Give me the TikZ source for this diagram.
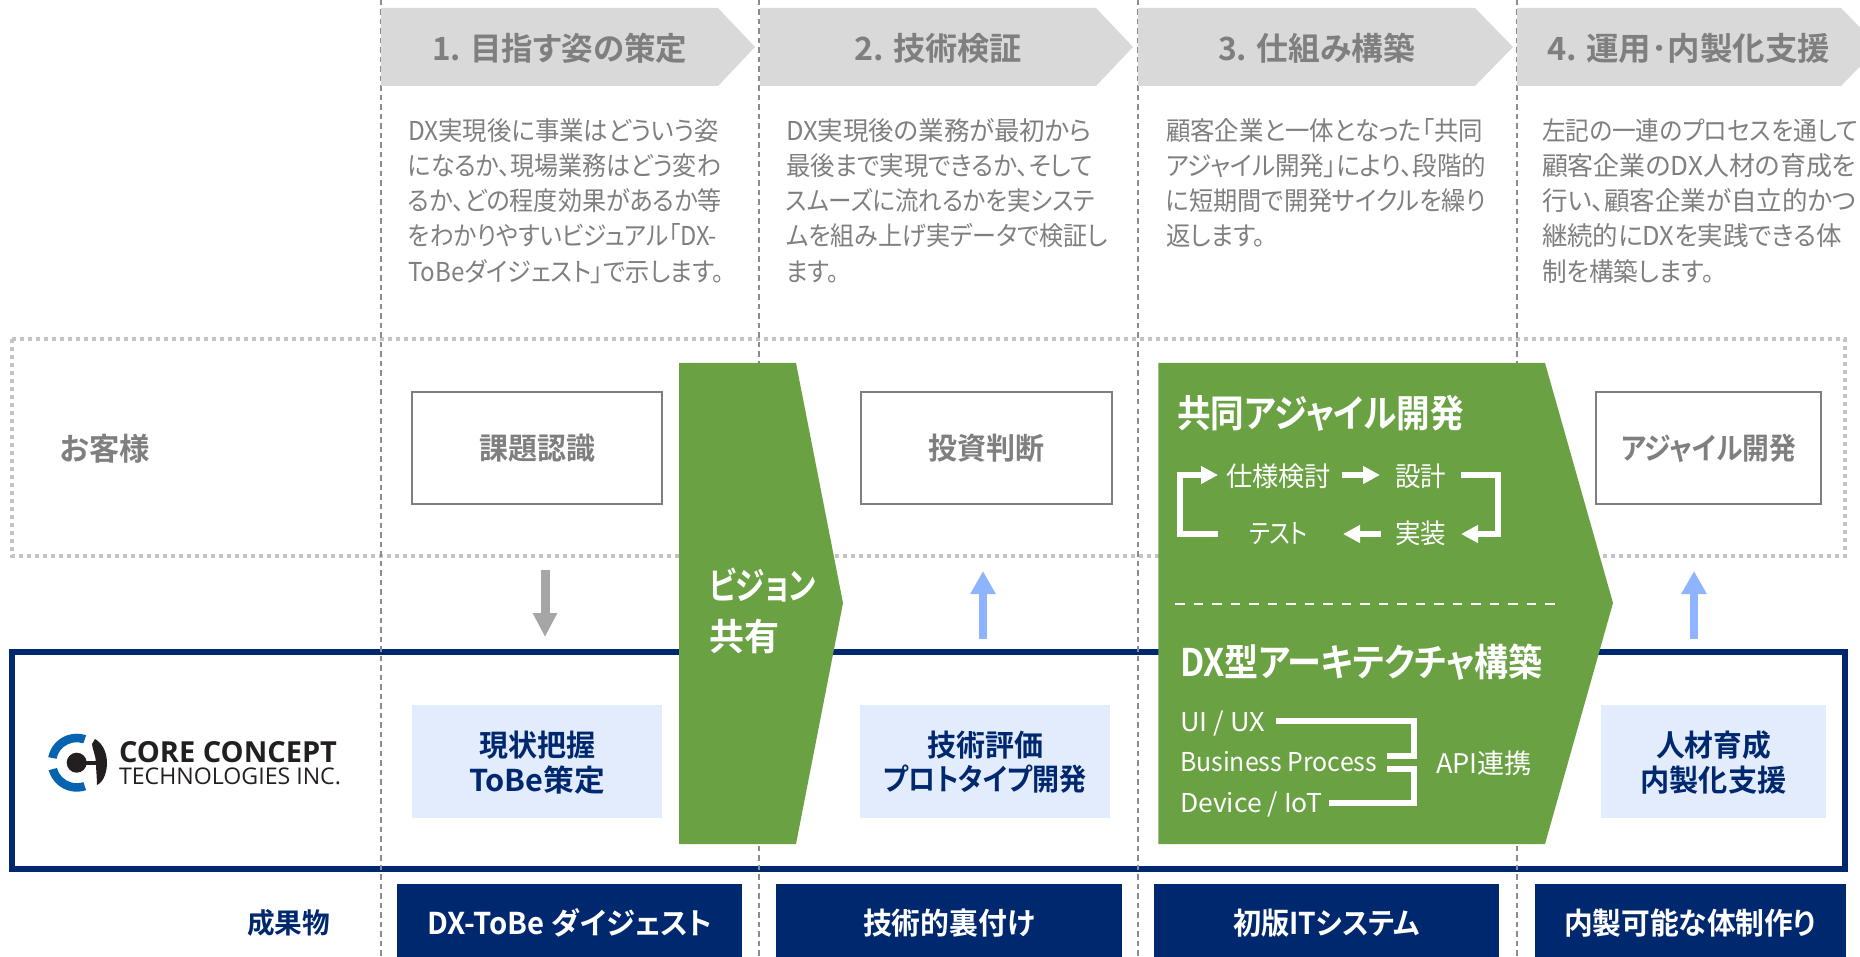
\documentclass[tikz,border=0pt]{standalone}
\usepackage{fontspec}
\usepackage{graphicx}
\usetikzlibrary{arrows.meta}
\setmainfont{Noto Sans CJK JP}[RawFeature=+palt,BoldFont={Noto Sans CJK JP Bold}]
\newfontfamily\logofont{Open Sans}
\definecolor{navy}{HTML}{00286F}
\definecolor{leaf}{HTML}{6AA143}
\definecolor{hdr}{HTML}{D9D9D9}
\definecolor{gtx}{HTML}{7F7F7F}
\definecolor{pale}{HTML}{E3ECFC}
\definecolor{sky}{HTML}{8FB4FF}
\definecolor{ash}{HTML}{A6A6A6}
\definecolor{dots}{HTML}{C4C4C4}
\definecolor{vline}{HTML}{8C8C8C}
\definecolor{lblue}{HTML}{0563B0}
\definecolor{lblack}{HTML}{231F20}
\newcommand{\tx}[3]{\fontsize{#1pt}{#1pt}\selectfont\resizebox{#2pt}{\height}{\rule[-.12em]{0pt}{1em}#3}}
\tikzset{
  lbl/.style={inner sep=0pt,outer sep=0pt},
  body/.style={lbl,anchor=west,text=gtx},
  head/.style={lbl,text=gtx,font=\bfseries},
  navyb/.style={lbl,text=navy,font=\bfseries},
  whiteb/.style={lbl,text=white,font=\bfseries},
  whiter/.style={lbl,text=white},
  whitel/.style={lbl,text=white,anchor=west},
  graybox/.style={lbl,draw=gtx,line width=1.5pt,fill=white,text=gtx,font=\bfseries},
  palebox/.style={lbl,fill=pale},
  navybox/.style={lbl,fill=navy,text=white,font=\bfseries},
  cyclearrow/.style={white,line width=6pt,-{Triangle[length=17pt,width=17pt]}},
  bracket/.style={white,line width=6pt},
  sep/.style={vline,line width=1.5pt,dash pattern=on 5.5pt off 4pt},
}
\begin{document}
\begin{tikzpicture}[x=1pt,y=-1pt]
\useasboundingbox (0,0) rectangle (1860,957);
% frames
\draw[dots,line width=4pt,dash pattern=on 4pt off 4pt] (12,339) rectangle (1845,556);
\draw[navy,line width=6pt] (12,652) rectangle (1845,869);
% column separators
\foreach \x in {381,759,1138,1517} \draw[sep] (\x,0) -- (\x,957);
% header arrows
\fill[hdr] (381,8) -- (718,8) -- (755,47) -- (718,86) -- (381,86) -- cycle;
\fill[hdr] (760,8) -- (1096,8) -- (1133,47) -- (1096,86) -- (760,86) -- cycle;
\fill[hdr] (1138,8) -- (1475,8) -- (1513,47) -- (1475,86) -- (1138,86) -- cycle;
\fill[hdr] (1517,8) -- (1841,8) -- (1860,27.5) -- (1860,66.5) -- (1841,86) -- (1517,86) -- cycle;
\node[head] (h1) at (559.5,48) {\tx{32}{255}{1. 目指す姿の策定}};
\node[head] (h2) at (938,48) {\tx{32}{168}{2. 技術検証}};
\node[head] (h3) at (1316.5,48) {\tx{32}{197}{3. 仕組み構築}};
\node[head] (h4) at (1688.5,48) {\tx{32}{283}{4. 運用･内製化支援}};
% column texts
\node[body] (a1) at (408,131) {\tx{26}{311}{DX実現後に事業はどういう姿}};
\node[body] (a2) at (408,166) {\tx{26}{313}{になるか、現場業務はどう変わ}};
\node[body] (a3) at (408,201) {\tx{26}{314}{るか、どの程度効果があるか等}};
\node[body] (a4) at (408,236) {\tx{26}{309}{をわかりやすいビジュアル「DX-}};
\node[body] (a5) at (408,272) {\tx{26}{316}{ToBeダイジェスト」で示します。}};
\node[body] (b1) at (786,131) {\tx{26}{306}{DX実現後の業務が最初から}};
\node[body] (b2) at (786,166) {\tx{26}{307}{最後まで実現できるか、そして}};
\node[body] (b3) at (786,201) {\tx{26}{309}{スムーズに流れるかを実システ}};
\node[body] (b4) at (786,236) {\tx{26}{322}{ムを組み上げ実データで検証し}};
\node[body] (b5) at (786,272) {\tx{26}{53}{ます。}};
\node[body] (c1) at (1166,131) {\tx{26}{317}{顧客企業と一体となった「共同}};
\node[body] (c2) at (1166,166) {\tx{26}{320}{アジャイル開発」により、段階的}};
\node[body] (c3) at (1166,201) {\tx{26}{320}{に短期間で開発サイクルを繰り}};
\node[body] (c4) at (1166,236) {\tx{26}{99}{返します。}};
\node[body] (d1) at (1542,131) {\tx{26}{316}{左記の一連のプロセスを通して}};
\node[body] (d2) at (1542,166) {\tx{26}{314}{顧客企業のDX人材の育成を}};
\node[body] (d3) at (1542,201) {\tx{26}{314}{行い、顧客企業が自立的かつ}};
\node[body] (d4) at (1542,236) {\tx{26}{300}{継続的にDXを実践できる体}};
\node[body] (d5) at (1542,272) {\tx{26}{172}{制を構築します。}};
% customer row
\node[head] (okyaku) at (105,449) {\tx{31}{90}{お客様}};
\node[graybox,minimum width=250pt,minimum height=112pt] (g1) at (537,448) {\tx{30}{116}{課題認識}};
\node[graybox,minimum width=251pt,minimum height=112pt] (g2) at (986.5,448) {\tx{30}{116}{投資判断}};
\node[graybox,minimum width=225pt,minimum height=112pt] (g3) at (1708.5,448) {\tx{30}{175}{アジャイル開発}};
% our row
\node[palebox,minimum width=250pt,minimum height=113pt] (p1) at (537,761.5) {};
\node[navyb] (p1a) at (537,745) {\tx{30}{116}{現状把握}};
\node[navyb] (p1b) at (537,780) {\tx{30}{136}{ToBe策定}};
\node[palebox,minimum width=250pt,minimum height=113pt] (p2) at (985,761.5) {};
\node[navyb] (p2a) at (985,745) {\tx{30}{116}{技術評価}};
\node[navyb] (p2b) at (985,779) {\tx{30}{203}{プロトタイプ開発}};
\node[palebox,minimum width=225pt,minimum height=113pt] (p3) at (1713.5,761.5) {};
\node[navyb] (p3a) at (1713.5,745) {\tx{30}{115}{人材育成}};
\node[navyb] (p3b) at (1713.5,780) {\tx{30}{146}{内製化支援}};
% vertical arrows
\coordinate (dn1) at (545,570); \coordinate (dn2) at (545,637);
\draw[ash,line width=9pt,-{Triangle[length=24pt,width=23pt]}] (dn1) -- (dn2);
\coordinate (up1) at (983,639); \coordinate (up2) at (983,571);
\draw[sky,line width=8pt,-{Triangle[length=23pt,width=24pt]}] (up1) -- (up2);
\coordinate (up3) at (1694,639); \coordinate (up4) at (1694,571);
\draw[sky,line width=8pt,-{Triangle[length=23pt,width=24pt]}] (up3) -- (up4);
% logo
\fill[lblue] (76.7,762.7) ++(71:29) arc[start angle=71,end angle=165,radius=29] -- ++(-15:8.5) arc[start angle=165,end angle=71,radius=20.5] -- cycle;
\fill[lblue] (76.7,762.7) ++(191:29) arc[start angle=191,end angle=289,radius=29] -- ++(109:8.5) arc[start angle=289,end angle=191,radius=20.5] -- cycle;
\fill[lblack] (76.7,762.7) circle (10);
\fill[lblack] (80,760.5) rectangle (100,765);
\fill[lblack] (95,739) .. controls (104,744) and (107,755) .. (107,763) .. controls (107,771) and (104,782) .. (97,785) .. controls (97,778) and (96,770) .. (96,763) .. controls (96,756) and (92,748) .. (92,744) -- cycle;
\node[lbl,anchor=west,text=lblack,font=\logofont] (lg1) at (119,751) {\tx{29}{218}{\textbf{CORE CONCEPT}}};
\node[lbl,anchor=west,text=lblack,font=\logofont] (lg2) at (119,776) {\tx{23}{222}{TECHNOLOGIES INC.}};
% deliverables
\node[navyb] (seika) at (288.5,923) {\tx{28}{83}{成果物}};
\node[navybox,minimum width=345pt,minimum height=73pt] (o1) at (569.5,920.5) {};
\node[whiteb] (o1t) at (570,923) {\tx{30}{285}{DX-ToBe ダイジェスト}};
\node[navybox,minimum width=346pt,minimum height=73pt] (o2) at (949,920.5) {};
\node[whiteb] (o2t) at (949,923) {\tx{30}{172}{技術的裏付け}};
\node[navybox,minimum width=345pt,minimum height=73pt] (o3) at (1326.5,920.5) {};
\node[whiteb] (o3t) at (1326.5,923) {\tx{30}{187}{初版ITシステム}};
\node[navybox,minimum width=311pt,minimum height=73pt] (o4) at (1690.5,920.5) {};
\node[whiteb] (o4t) at (1690,923) {\tx{30}{252}{内製可能な体制作り}};
% green arrows
\fill[leaf] (679,363) -- (796,363) -- (843,603) -- (796,844) -- (679,844) -- cycle;
\node[whiteb,anchor=west] (v1) at (709,585) {\tx{37}{107}{ビジョン}};
\node[whiteb,anchor=west] (v2) at (709,636) {\tx{37}{70}{共有}};
\fill[leaf] (1158.3,363) -- (1545,363) -- (1613,603) -- (1545,844) -- (1158.3,844) -- cycle;
\node[whiteb,anchor=west] (k0) at (1177,413) {\tx{38}{287}{共同アジャイル開発}};
\node[whitel] (k1) at (1226,476) {\tx{27}{105}{仕様検討}};
\node[whitel] (k2) at (1395,476) {\tx{27}{51}{設計}};
\node[whitel] (k3) at (1249,533) {\tx{27}{59}{テスト}};
\node[whitel] (k4) at (1395,533) {\tx{27}{51}{実装}};
\coordinate (c1s) at (1218,534); \coordinate (c1a) at (1180,534); \coordinate (c1b) at (1180,475); \coordinate (c1e) at (1218,475);
\draw[cyclearrow] (c1s) -- (c1a) -- (c1b) -- (c1e);
\coordinate (c2s) at (1342,475); \coordinate (c2e) at (1380,475);
\draw[cyclearrow] (c2s) -- (c2e);
\coordinate (c3s) at (1461,475); \coordinate (c3a) at (1498,475); \coordinate (c3b) at (1498,534); \coordinate (c3e) at (1461,534);
\draw[cyclearrow] (c3s) -- (c3a) -- (c3b) -- (c3e);
\coordinate (c4s) at (1381,534); \coordinate (c4e) at (1343,534);
\draw[cyclearrow] (c4s) -- (c4e);
\coordinate (sepl) at (1175,604); \coordinate (sepr) at (1557,604);
\draw[white,line width=2.5pt,dash pattern=on 9.5pt off 9pt] (sepl) -- (sepr);
\node[whiteb,anchor=west] (dx0) at (1180,662) {\tx{38}{363}{DX型アーキテクチャ構築}};
\node[whitel] (u1) at (1180,722) {\tx{26}{85}{UI / UX}};
\node[whitel] (u2) at (1180,762) {\tx{26}{197}{Business Process}};
\node[whitel] (u3) at (1180,803) {\tx{26}{142}{Device / IoT}};
\node[whitel] (api) at (1436,763) {\tx{27}{96}{API連携}};
\coordinate (b1s) at (1276,721); \coordinate (b1a) at (1414,721); \coordinate (b1b) at (1414,756); \coordinate (b1e) at (1387,756);
\draw[bracket] (b1s) -- (b1a) -- (b1b) -- (b1e);
\coordinate (b2s) at (1329,803); \coordinate (b2a) at (1414,803); \coordinate (b2b) at (1414,769); \coordinate (b2e) at (1387,769);
\draw[bracket] (b2s) -- (b2a) -- (b2b) -- (b2e);
\end{tikzpicture}
\end{document}
